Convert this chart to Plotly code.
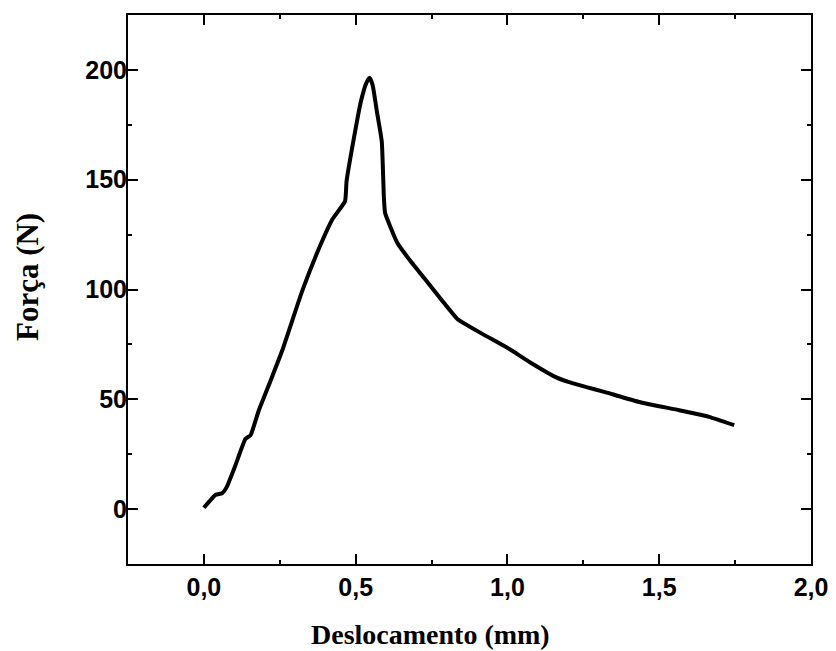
import plotly.graph_objects as go

deslocamento = [0, 0.039, 0.06, 0.075, 0.104, 0.137, 0.154, 0.181, 0.22, 0.258, 0.324, 0.385,
                0.423, 0.465, 0.47, 0.5, 0.517, 0.535, 0.546, 0.556, 0.57, 0.586, 0.593, 0.597,
                0.637, 0.676, 0.742, 0.785, 0.835, 0.917, 1.005, 1.082, 1.159, 1.203, 1.346,
                1.434, 1.566, 1.664, 1.747]
forca = [0.6, 6.5, 7.2, 10, 20, 32, 33.7, 45, 58.6, 72.2, 99.4, 120.6,
         131.9, 140.2, 149.3, 173.4, 185.5, 194, 196.4, 193, 181, 167.4, 141.7, 134.8,
         121.3, 113.8, 102.4, 94.9, 86.6, 79.8, 73, 66.2, 60.1, 57.8, 52.3,
         48.8, 45, 42, 38.2]

x_ticks = [0.0, 0.5, 1.0, 1.5, 2.0]
x_ticklabels = ["0,0", "0,5", "1,0", "1,5", "2,0"]
y_ticks = [0, 50, 100, 150, 200]
y_ticklabels = ["0", "50", "100", "150", "200"]

fig = go.Figure()
fig.add_trace(go.Scatter(x=deslocamento, y=forca, mode="lines",
                         line=dict(color="black", width=4, shape="spline", smoothing=0.4),
                         showlegend=False))

tickfont = dict(family="Liberation Sans, Arial, sans-serif", size=25, color="black", weight="bold")
axis_common = dict(showline=True, linecolor="black", linewidth=2, mirror="ticks",
                   ticks="inside", ticklen=10, tickwidth=2, tickcolor="black",
                   showgrid=False, zeroline=False, tickfont=tickfont)

fig.update_xaxes(range=[-0.25, 2.0], tickvals=x_ticks, ticktext=x_ticklabels,
                 minor=dict(ticks="inside", ticklen=4, tickwidth=2, tickcolor="black",
                            tickvals=[-0.25, 0.25, 0.75, 1.25, 1.75]),
                 **axis_common)
fig.update_yaxes(range=[-25, 225], tickvals=y_ticks, ticktext=y_ticklabels,
                 ticklabelstandoff=-6,
                 minor=dict(ticks="inside", ticklen=4, tickwidth=2, tickcolor="black",
                            tickvals=[-25, 25, 75, 125, 175, 225]),
                 **axis_common)

# page has an 8px body margin; compensate
W, H = 828, 643
L, T, R, B = 120, 5, 25, 87
pw, ph = W - L - R, H - T - B

xtitlefont = dict(family="Liberation Serif, Times New Roman, serif", size=28, color="black")
ytitlefont = dict(family="Liberation Serif, Times New Roman, serif", size=31, color="black")
fig.add_annotation(text="<b>Deslocamento (mm)</b>", xref="paper", yref="paper",
                   x=(430 - 128) / pw, y=-(635 - 564) / ph, xanchor="center", yanchor="middle",
                   showarrow=False, font=xtitlefont)
fig.add_annotation(text="<b>Força (N)</b>", xref="paper", yref="paper",
                   x=-(128 - 27) / pw, y=(564 - 276) / ph, xanchor="center", yanchor="middle",
                   textangle=-90, showarrow=False, font=ytitlefont)

fig.update_layout(width=W, height=H, margin=dict(l=L, r=R, t=T, b=B),
                  plot_bgcolor="white", paper_bgcolor="white")
fig.write_html("out.html")
